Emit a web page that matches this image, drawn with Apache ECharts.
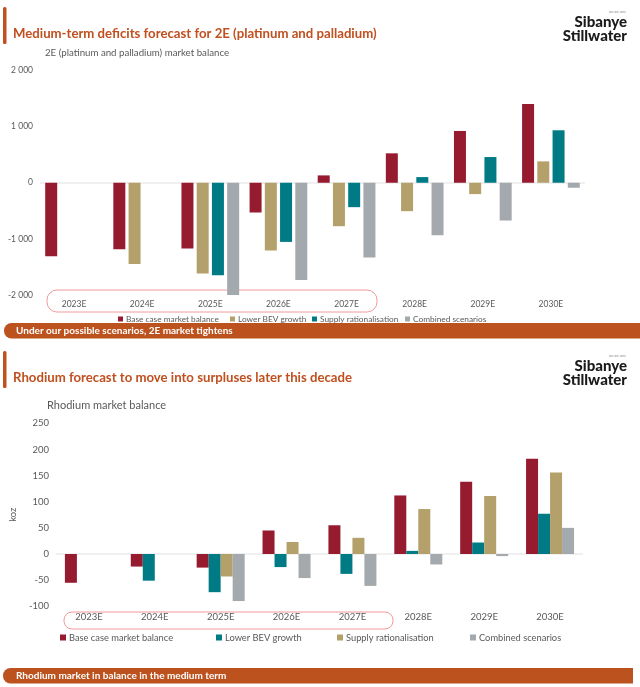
<!DOCTYPE html>
<html>
<head>
<meta charset="utf-8">
<script src="https://cdn.jsdelivr.net/npm/echarts@6/dist/echarts.min.js"></script>
<style>
html,body{margin:0;padding:0;background:#fff;}
#c1{position:absolute;left:0;top:0;width:640px;height:344px;}
#c2{position:absolute;left:0;top:344px;width:640px;height:343px;}
</style>
</head>
<body>
<div id="c1"></div>
<div id="c2"></div>
<script>
// ---------- Data ----------
const categories = ['2023E','2024E','2025E','2026E','2027E','2028E','2029E','2030E'];

// 2E (platinum and palladium) market balance, koz
const pgmBase      = [-1310, -1185, -1173, -530, 131, 524, 923, 1405];
const pgmLowerBev  = [null, -1446, -1619, -1208, -774, -506, -202, 381];
const pgmSupply    = [null, null, -1649, -1054, -435, 101, 458, 935];
const pgmCombined  = [null, null, -2018, -1732, -1333, -935, -673, -89];
const pgmTicks = {min: -2000, max: 2000, interval: 1000};

// Rhodium market balance, koz
const rhBase      = [-55, -24, -26, 45, 55, 112, 138, 182];
const rhLowerBev  = [null, -51, -73, -25, -38, 6, 22, 77];
const rhSupply    = [null, null, -43, 23, 31, 86, 111, 156];
const rhCombined  = [null, null, -90, -46, -61, -20, -4, 50];
const rhTicks = {min: -100, max: 250, interval: 50};

const nameBase = 'Base case market balance';
const nameBev = 'Lower BEV growth';
const nameSupply = 'Supply rationalisation';
const nameComb = 'Combined scenarios';

// ---------- Styles ----------
const RED = '#961b2f', TAN = '#b3a06a', TEAL = '#007b86', GRAY = '#a3a9ac';
const ORANGE = '#c0501f', BANNER = '#bc521e', LABEL = '#595959';
const FONT = 'Lato, "Open Sans", sans-serif';
const T = 'rgba(0,0,0,0)';

function fmtThousands(v){
  const a = Math.abs(v);
  let s = String(a);
  if (a >= 1000) s = s.slice(0, s.length-3) + ' ' + s.slice(-3);
  return (v < 0 ? '-' : '') + s;
}

function headerGraphics(title, titleSize, subtitle, subX, subSize, offs){
  return [
    {type:'rect', shape:{x:3, y:7, width:3.5, height:37, r:1.5}, style:{fill:ORANGE}},
    {type:'text', style:{text:title, x:13, y:34, fill:ORANGE, fontSize:titleSize, fontWeight:'bold', fontFamily:FONT, verticalAlign:'middle'}},
    {type:'text', style:{text:'we are one', x:626, y:12, fill:'#888', fontSize:3.5, fontFamily:FONT, align:'right', verticalAlign:'middle'}},
    {type:'text', style:{text:'Sibanye', x:627, y:22, fill:'#1a1a1a', fontSize:15, fontWeight:900, fontFamily:FONT, align:'right', verticalAlign:'middle'}},
    {type:'text', style:{text:'Stillwater', x:627, y:36, fill:'#1a1a1a', fontSize:15, fontWeight:900, fontFamily:FONT, align:'right', verticalAlign:'middle'}},
    {type:'text', style:{text:subtitle, x:subX, y:offs, fill:LABEL, fontSize:subSize, fontFamily:FONT, verticalAlign:'middle'}}
  ];
}

function legendItem(name, left, top, size, fs){
  return {data:[name], left:left, top:top, itemWidth:size, itemHeight:size, icon:'rect',
    padding:0, textStyle:{color:LABEL, fontSize:fs, fontFamily:FONT, padding:[0,0,0,-2]}};
}

function barSeries(name, data, color, gap){
  return {type:'bar', name:name, data:data, barWidth:12, barGap:gap, itemStyle:{color:color}};
}

// ---------- Chart 1: 2E ----------
const c1 = echarts.init(document.getElementById('c1'));
c1.setOption({
  animation:false,
  backgroundColor:'#fff',
  grid:{left:40, right:55, top:70.5, height:224.5},
  xAxis:{type:'category', data:categories, axisLine:{show:false}, axisTick:{show:false},
    axisLabel:{color:LABEL, fontSize:8.5, fontFamily:FONT, margin:5}},
  yAxis:{type:'value', min:pgmTicks.min, max:pgmTicks.max, interval:pgmTicks.interval,
    axisLine:{show:false}, axisTick:{show:false},
    axisLabel:{color:LABEL, fontSize:8.5, fontFamily:FONT, margin:7, formatter:fmtThousands},
    splitLine:{show:true, lineStyle:{color:[T,T,'#ebebeb',T,T], width:1.5}}},
  legend:[
    legendItem(nameBase, 118, 315, 5, 8.3),
    legendItem(nameBev, 230, 315, 5, 8.3),
    legendItem(nameSupply, 312, 315, 5, 8.3),
    legendItem(nameComb, 405, 315, 5, 8.3)
  ],
  series:[
    barSeries(nameBase, pgmBase, RED, '27%'),
    barSeries(nameBev, pgmLowerBev, TAN, '27%'),
    barSeries(nameSupply, pgmSupply, TEAL, '27%'),
    barSeries(nameComb, pgmCombined, GRAY, '27%')
  ],
  graphic: headerGraphics('Medium-term deficits forecast for 2E (platinum and palladium)', 13.2,
      '2E (platinum and palladium) market balance', 45, 9.7, 53).concat([
    {type:'rect', shape:{x:47, y:290, width:330, height:22, r:10}, style:{fill:'none', stroke:'#f29a9a', lineWidth:1}},
    {type:'rect', shape:{x:4, y:323, width:640, height:15.5, r:[7.5,0,0,7.5]}, style:{fill:BANNER}},
    {type:'text', style:{text:'Under our possible scenarios, 2E market tightens', x:16, y:331, fill:'#fff', fontSize:10, fontWeight:'bold', fontFamily:FONT, verticalAlign:'middle'}}
  ])
});

// ---------- Chart 2: Rhodium ----------
const c2 = echarts.init(document.getElementById('c2'));
c2.setOption({
  animation:false,
  backgroundColor:'#fff',
  grid:{left:53, right:57, top:79.3, height:183},
  xAxis:{type:'category', data:categories, axisLine:{show:false}, axisTick:{show:false},
    axisLabel:{color:LABEL, fontSize:9.5, fontFamily:FONT, margin:6}},
  yAxis:{type:'value', min:rhTicks.min, max:rhTicks.max, interval:rhTicks.interval,
    name:'koz', nameLocation:'middle', nameRotate:90, nameGap:29,
    nameTextStyle:{color:LABEL, fontSize:9.5, fontFamily:FONT},
    axisLine:{show:false}, axisTick:{show:false},
    axisLabel:{color:LABEL, fontSize:9.5, fontFamily:FONT, margin:7},
    splitLine:{show:true, lineStyle:{color:[T,T,'#ebebeb',T,T,T,T,T], width:1.5}}},
  legend:[
    legendItem(nameBase, 60, 289, 6, 9.3),
    legendItem(nameBev, 216, 289, 6, 9.3),
    legendItem(nameSupply, 337, 289, 6, 9.3),
    legendItem(nameComb, 470, 289, 6, 9.3)
  ],
  series:[
    barSeries(nameBase, rhBase, RED, 0),
    barSeries(nameBev, rhLowerBev, TEAL, 0),
    barSeries(nameSupply, rhSupply, TAN, 0),
    barSeries(nameComb, rhCombined, GRAY, 0)
  ],
  graphic: headerGraphics('Rhodium forecast to move into surpluses later this decade', 13.2,
      'Rhodium market balance', 47, 11, 61).concat([
    {type:'rect', shape:{x:64, y:268, width:329, height:17, r:8}, style:{fill:'none', stroke:'#f29a9a', lineWidth:1}},
    {type:'rect', shape:{x:3, y:324, width:630, height:15.5, r:[7.5,0,0,7.5]}, style:{fill:BANNER}},
    {type:'text', style:{text:'Rhodium market in balance in the medium term', x:16, y:332, fill:'#fff', fontSize:10, fontWeight:'bold', fontFamily:FONT, verticalAlign:'middle'}}
  ])
});
</script>
</body>
</html>
